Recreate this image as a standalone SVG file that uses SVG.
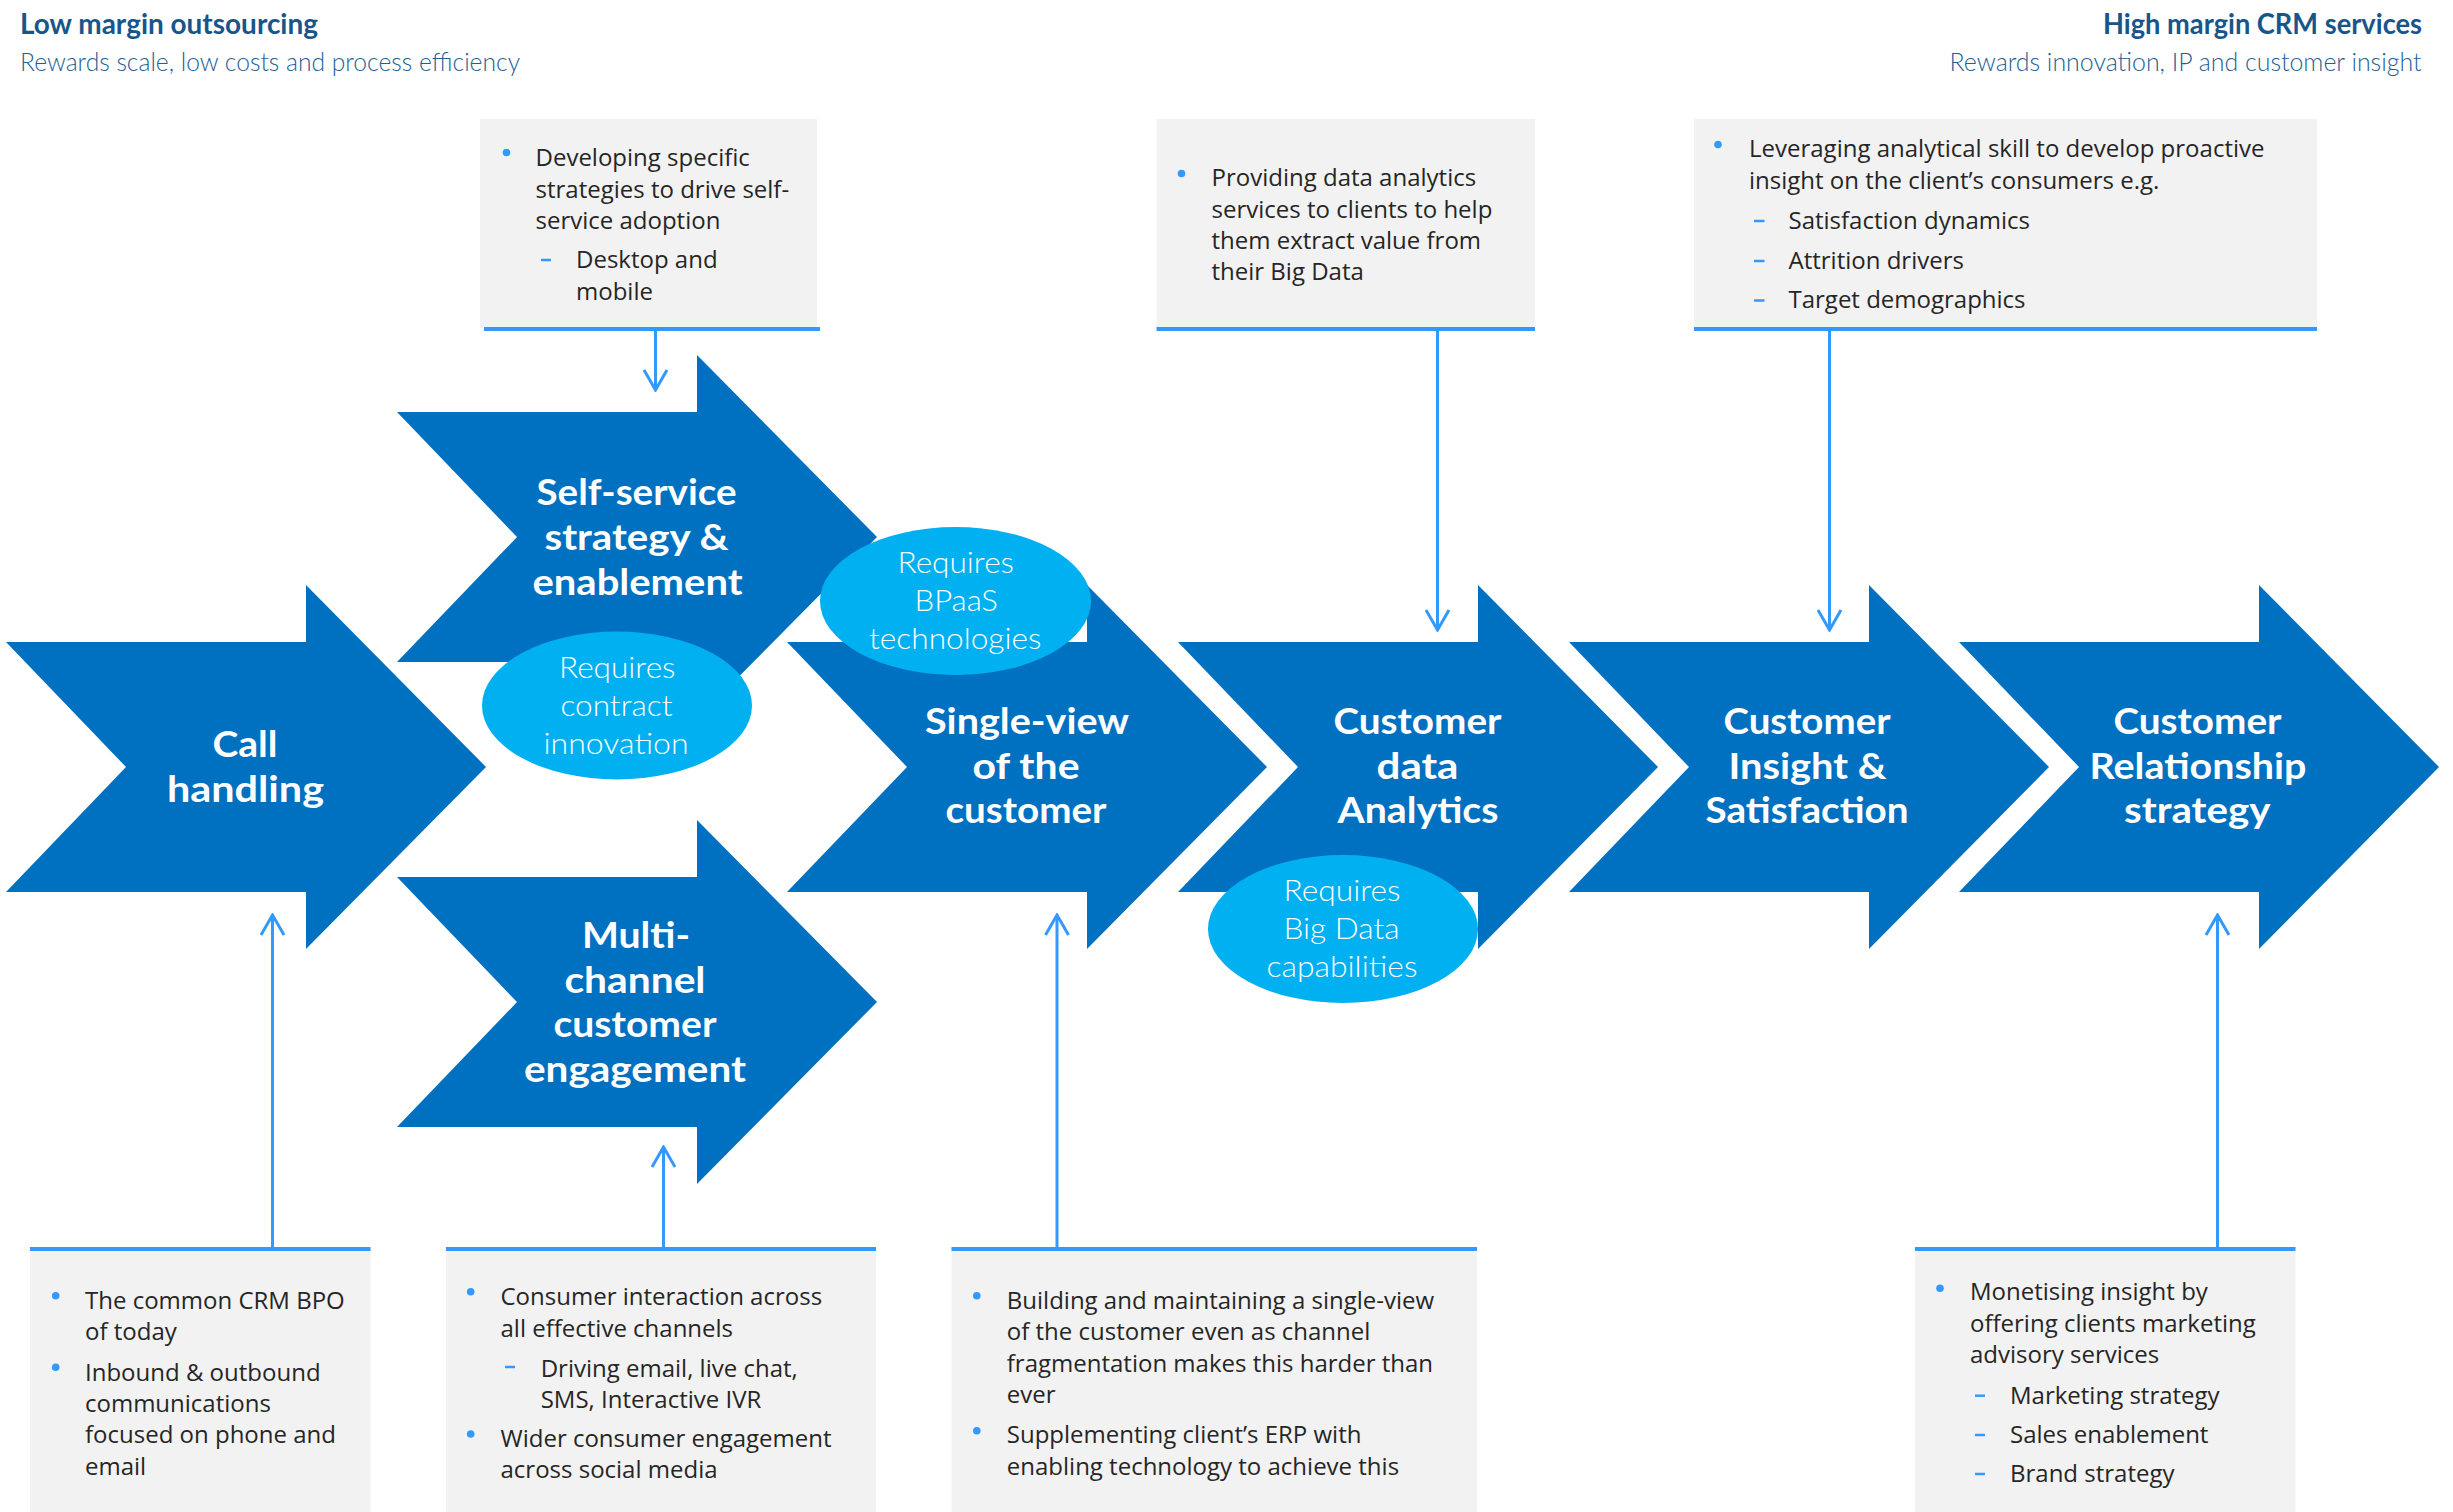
<svg xmlns="http://www.w3.org/2000/svg" width="2453" height="1512" viewBox="0 0 2453 1512">
<style>
.hdT{font-family:Lato,"Open Sans","Liberation Sans",sans-serif;font-weight:700;font-size:28px;fill:#17558A}
.hdS{font-family:Lato,"Open Sans","Liberation Sans",sans-serif;font-weight:300;font-size:25.5px;fill:#1E5F96}
.box{fill:#F2F2F2}
.rule{stroke:#3399FF;stroke-width:4;fill:none}
.bt{font-family:"Open Sans","Liberation Sans",sans-serif;font-size:24px;fill:#262626}
.dot{fill:#3399FF}
.dash{stroke:#3399FF;stroke-width:2.5}
.chev{fill:#0070C0}
.ttl{font-family:Lato,"Open Sans","Liberation Sans",sans-serif;font-weight:700;font-size:36px;fill:#FFFFFF}
.ell{fill:#00B0F0}
.et{font-family:Lato,"Open Sans","Liberation Sans",sans-serif;font-weight:300;font-size:30px;fill:#FFFFFF}
.conn{stroke:#3399FF;stroke-width:3;fill:none}
</style>
<defs>
<marker id="ah" viewBox="0 0 24 26" refX="22" refY="13" markerWidth="24" markerHeight="26" markerUnits="userSpaceOnUse" orient="auto">
<path d="M2,1.5 L22,13 L2,24.5" fill="none" stroke="#3399FF" stroke-width="3"/>
</marker>
</defs>
<rect width="2453" height="1512" fill="#FFFFFF"/>

<g id="header">
<text class="hdT" x="20" y="34" textLength="298" lengthAdjust="spacingAndGlyphs">Low margin outsourcing</text>
<text class="hdS" x="20" y="70.5" textLength="500" lengthAdjust="spacingAndGlyphs">Rewards scale, low costs and process efficiency</text>
<text class="hdT" x="2422" y="34" text-anchor="end" textLength="319" lengthAdjust="spacingAndGlyphs">High margin CRM services</text>
<text class="hdS" x="1949.5" y="70.5" textLength="472" lengthAdjust="spacingAndGlyphs">Rewards innovation, IP and customer insight</text>
</g>

<g id="box-selfservice">
<rect class="box" x="480" y="119" width="337" height="209"/>
<line class="rule" x1="484" y1="329" x2="820" y2="329"/>
<circle class="dot" cx="506.5" cy="152.5" r="3.8"/>
<text class="bt" x="535.5" y="166">Developing specific</text>
<text class="bt" x="535.5" y="198">strategies to drive self-</text>
<text class="bt" x="535.5" y="229">service adoption</text>
<line class="dash" x1="541" y1="260" x2="551" y2="260"/>
<text class="bt" x="576" y="268">Desktop and</text>
<text class="bt" x="576" y="300">mobile</text>
</g>

<g id="box-analytics">
<rect class="box" x="1156.5" y="119" width="378.5" height="209"/>
<line class="rule" x1="1156.5" y1="329" x2="1535" y2="329"/>
<circle class="dot" cx="1181.5" cy="173.5" r="3.8"/>
<text class="bt" x="1211.5" y="186">Providing data analytics</text>
<text class="bt" x="1211.5" y="218">services to clients to help</text>
<text class="bt" x="1211.5" y="249">them extract value from</text>
<text class="bt" x="1211.5" y="280">their Big Data</text>
</g>

<g id="box-insight">
<rect class="box" x="1694" y="119" width="623" height="209"/>
<line class="rule" x1="1694" y1="329" x2="2317" y2="329"/>
<circle class="dot" cx="1718" cy="144.5" r="3.8"/>
<text class="bt" x="1749" y="157">Leveraging analytical skill to develop proactive</text>
<text class="bt" x="1749" y="188.5">insight on the client’s consumers e.g.</text>
<line class="dash" x1="1754" y1="221" x2="1764.5" y2="221"/>
<text class="bt" x="1788.5" y="228.5">Satisfaction dynamics</text>
<line class="dash" x1="1754" y1="261" x2="1764.5" y2="261"/>
<text class="bt" x="1788.5" y="268.5">Attrition drivers</text>
<line class="dash" x1="1754" y1="300.5" x2="1764.5" y2="300.5"/>
<text class="bt" x="1788.5" y="308">Target demographics</text>
</g>

<g id="box-callhandling">
<rect class="box" x="30" y="1249" width="340.5" height="263"/>
<line class="rule" x1="30" y1="1249" x2="370.5" y2="1249"/>
<circle class="dot" cx="55.7" cy="1295.7" r="3.8"/>
<text class="bt" x="85" y="1309">The common CRM BPO</text>
<text class="bt" x="85" y="1340">of today</text>
<circle class="dot" cx="55.7" cy="1367.3" r="3.8"/>
<text class="bt" x="85" y="1381">Inbound &amp; outbound</text>
<text class="bt" x="85" y="1412">communications</text>
<text class="bt" x="85" y="1443">focused on phone and</text>
<text class="bt" x="85" y="1475">email</text>
</g>

<g id="box-multichannel">
<rect class="box" x="446" y="1249" width="430" height="263"/>
<line class="rule" x1="446" y1="1249" x2="876" y2="1249"/>
<circle class="dot" cx="470.7" cy="1291.7" r="3.8"/>
<text class="bt" x="500.5" y="1305">Consumer interaction across</text>
<text class="bt" x="500.5" y="1337">all effective channels</text>
<line class="dash" x1="505" y1="1367" x2="515" y2="1367"/>
<text class="bt" x="540.7" y="1377">Driving email, live chat,</text>
<text class="bt" x="540.7" y="1408">SMS, Interactive IVR</text>
<circle class="dot" cx="470.7" cy="1434" r="3.8"/>
<text class="bt" x="500.5" y="1447">Wider consumer engagement</text>
<text class="bt" x="500.5" y="1478">across social media</text>
</g>

<g id="box-singleview">
<rect class="box" x="951.5" y="1249" width="525.5" height="263"/>
<line class="rule" x1="951.5" y1="1249" x2="1477" y2="1249"/>
<circle class="dot" cx="976.8" cy="1295.7" r="3.8"/>
<text class="bt" x="1006.8" y="1309">Building and maintaining a single-view</text>
<text class="bt" x="1006.8" y="1340">of the customer even as channel</text>
<text class="bt" x="1006.8" y="1371.7">fragmentation makes this harder than</text>
<text class="bt" x="1006.8" y="1403">ever</text>
<circle class="dot" cx="976.8" cy="1430.7" r="3.8"/>
<text class="bt" x="1006.8" y="1443">Supplementing client’s ERP with</text>
<text class="bt" x="1006.8" y="1475">enabling technology to achieve this</text>
</g>

<g id="box-relationship">
<rect class="box" x="1915" y="1249" width="380.5" height="263"/>
<line class="rule" x1="1915" y1="1249" x2="2295.5" y2="1249"/>
<circle class="dot" cx="1940" cy="1288.3" r="3.8"/>
<text class="bt" x="1970" y="1300">Monetising insight by</text>
<text class="bt" x="1970" y="1331.7">offering clients marketing</text>
<text class="bt" x="1970" y="1363.3">advisory services</text>
<line class="dash" x1="1975" y1="1395.7" x2="1985" y2="1395.7"/>
<text class="bt" x="2010" y="1404">Marketing strategy</text>
<line class="dash" x1="1975" y1="1435" x2="1985" y2="1435"/>
<text class="bt" x="2010" y="1443.3">Sales enablement</text>
<line class="dash" x1="1975" y1="1474" x2="1985" y2="1474"/>
<text class="bt" x="2010" y="1482.3">Brand strategy</text>
</g>

<g id="node-callhandling">
<path class="chev" d="M6,642 H306 V585 L486,767 L306,949 V892 H6 L126,767 Z"/>
<text class="ttl" x="212.5" y="757" textLength="65" lengthAdjust="spacingAndGlyphs">Call</text>
<text class="ttl" x="167" y="802" textLength="157" lengthAdjust="spacingAndGlyphs">handling</text>
</g>

<g id="node-selfservice">
<path class="chev" d="M397,412 H697 V355 L877,537 L697,719 V662 H397 L517,537 Z"/>
<text class="ttl" x="536.5" y="505" textLength="200" lengthAdjust="spacingAndGlyphs">Self-service</text>
<text class="ttl" x="544.5" y="550" textLength="184" lengthAdjust="spacingAndGlyphs">strategy &amp;</text>
<text class="ttl" x="532.5" y="594.5" textLength="210" lengthAdjust="spacingAndGlyphs">enablement</text>
</g>

<g id="node-multichannel">
<path class="chev" d="M397,877 H697 V820 L877,1002 L697,1184 V1127 H397 L517,1002 Z"/>
<text class="ttl" x="582" y="948" textLength="108" lengthAdjust="spacingAndGlyphs">Multi-</text>
<text class="ttl" x="564.5" y="992.5" textLength="141" lengthAdjust="spacingAndGlyphs">channel</text>
<text class="ttl" x="553.5" y="1037" textLength="163" lengthAdjust="spacingAndGlyphs">customer</text>
<text class="ttl" x="524" y="1081.5" textLength="222" lengthAdjust="spacingAndGlyphs">engagement</text>
</g>

<g id="node-singleview">
<path class="chev" d="M787,642 H1087 V585 L1267,767 L1087,949 V892 H787 L907,767 Z"/>
<text class="ttl" x="925" y="734" textLength="204" lengthAdjust="spacingAndGlyphs">Single-view</text>
<text class="ttl" x="972.5" y="778.5" textLength="107" lengthAdjust="spacingAndGlyphs">of the</text>
<text class="ttl" x="945.5" y="823" textLength="161" lengthAdjust="spacingAndGlyphs">customer</text>
</g>

<g id="node-dataanalytics">
<path class="chev" d="M1178,642 H1478 V585 L1658,767 L1478,949 V892 H1178 L1298,767 Z"/>
<text class="ttl" x="1333.5" y="734" textLength="168" lengthAdjust="spacingAndGlyphs">Customer</text>
<text class="ttl" x="1376.5" y="778.5" textLength="82" lengthAdjust="spacingAndGlyphs">data</text>
<text class="ttl" x="1337.5" y="823" textLength="161" lengthAdjust="spacingAndGlyphs">Analytics</text>
</g>

<g id="node-insight">
<path class="chev" d="M1569,642 H1869 V585 L2049,767 L1869,949 V892 H1569 L1689,767 Z"/>
<text class="ttl" x="1723.5" y="734" textLength="167" lengthAdjust="spacingAndGlyphs">Customer</text>
<text class="ttl" x="1728.5" y="778.5" textLength="158" lengthAdjust="spacingAndGlyphs">Insight &amp;</text>
<text class="ttl" x="1705.5" y="823" textLength="203" lengthAdjust="spacingAndGlyphs">Satisfaction</text>
</g>

<g id="node-relationship">
<path class="chev" d="M1959,642 H2259 V585 L2439,767 L2259,949 V892 H1959 L2079,767 Z"/>
<text class="ttl" x="2113.5" y="734" textLength="168" lengthAdjust="spacingAndGlyphs">Customer</text>
<text class="ttl" x="2089.5" y="778.5" textLength="217" lengthAdjust="spacingAndGlyphs">Relationship</text>
<text class="ttl" x="2124" y="823" textLength="146.5" lengthAdjust="spacingAndGlyphs">strategy</text>
</g>

<g id="req-contract">
<ellipse class="ell" cx="617" cy="705.5" rx="135" ry="74"/>
<text class="et" x="559" y="678" textLength="116.5" lengthAdjust="spacingAndGlyphs">Requires</text>
<text class="et" x="560.5" y="716" textLength="112" lengthAdjust="spacingAndGlyphs">contract</text>
<text class="et" x="543.5" y="754" textLength="145" lengthAdjust="spacingAndGlyphs">innovation</text>
</g>

<g id="req-bpaas">
<ellipse class="ell" cx="955.5" cy="601" rx="135.5" ry="74"/>
<text class="et" x="897.5" y="573" textLength="116.5" lengthAdjust="spacingAndGlyphs">Requires</text>
<text class="et" x="914.5" y="611" textLength="83.5" lengthAdjust="spacingAndGlyphs">BPaaS</text>
<text class="et" x="869" y="649" textLength="172.5" lengthAdjust="spacingAndGlyphs">technologies</text>
</g>

<g id="req-bigdata">
<ellipse class="ell" cx="1343" cy="929" rx="135" ry="74"/>
<text class="et" x="1283.5" y="901" textLength="117" lengthAdjust="spacingAndGlyphs">Requires</text>
<text class="et" x="1283.5" y="939" textLength="116" lengthAdjust="spacingAndGlyphs">Big Data</text>
<text class="et" x="1266.5" y="977" textLength="151" lengthAdjust="spacingAndGlyphs">capabilities</text>
</g>

<g id="connectors">
<line class="conn" x1="655.5" y1="329" x2="655.5" y2="390" marker-end="url(#ah)"/>
<line class="conn" x1="1437.5" y1="329" x2="1437.5" y2="630" marker-end="url(#ah)"/>
<line class="conn" x1="1829.5" y1="329" x2="1829.5" y2="630" marker-end="url(#ah)"/>
<line class="conn" x1="272.5" y1="1249" x2="272.5" y2="915" marker-end="url(#ah)"/>
<line class="conn" x1="663.5" y1="1249" x2="663.5" y2="1147" marker-end="url(#ah)"/>
<line class="conn" x1="1057" y1="1249" x2="1057" y2="915" marker-end="url(#ah)"/>
<line class="conn" x1="2217.5" y1="1249" x2="2217.5" y2="915" marker-end="url(#ah)"/>
</g>
</svg>
